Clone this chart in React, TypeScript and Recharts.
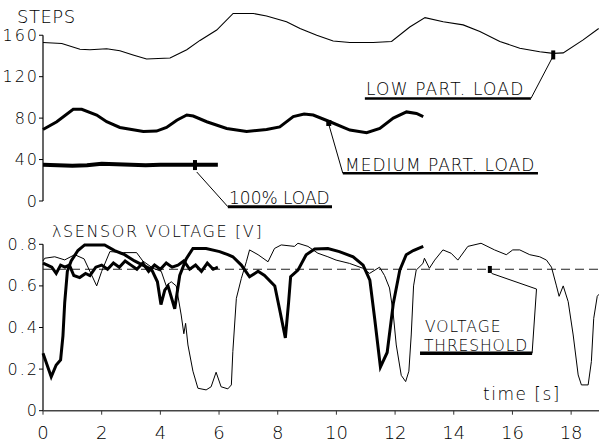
import { LineChart, Line, XAxis, YAxis, ReferenceLine, ReferenceDot } from "recharts";

const FONT = "'DejaVu Sans', Verdana, sans-serif";
const INK = "#000";
const WEIGHT = 200;

const timeTicks = [0, 2, 4, 6, 8, 10, 12, 14, 16, 18];
const stepTicks = [0, 40, 80, 120, 160];
const voltTicks = [0, 0.2, 0.4, 0.6, 0.8];
const threshold = 0.68;

// upper panel: steps
const lowT = [0, 0.64, 1.26, 1.6, 2.17, 2.62, 3.07, 3.53, 4.33, 4.9, 5.35, 5.92, 6.48, 7.17, 7.62, 8.3, 8.76, 9.33, 9.89, 10.46, 11.25, 11.88, 12.5, 13.02, 13.64, 14.32, 14.89, 15.57, 16.25, 16.93, 17.39, 17.73, 18.41, 18.94];
const lowSteps = [153, 152, 146.5, 146, 147, 145, 141, 137, 138, 146, 155, 165, 181, 181, 178.5, 173, 166.5, 160, 154.5, 153, 153, 154, 168, 177, 173, 170, 163.5, 154, 147.5, 144, 142.5, 143, 155.5, 166.5];

const medT = [0, 0.47, 1.03, 1.32, 1.83, 2.17, 2.62, 3.42, 3.87, 4.21, 4.56, 4.9, 5.12, 5.58, 6.26, 6.94, 7.62, 8.07, 8.53, 8.9, 9.21, 9.78, 10.46, 11.03, 11.48, 11.94, 12.39, 12.73, 12.96];
const medSteps = [69, 76.5, 88.5, 88.5, 83, 76.5, 71, 67, 67.5, 71, 78, 83, 82, 76.5, 70, 67, 69, 71.5, 81.5, 84, 83, 76.5, 68.5, 66, 70, 80, 86, 84.5, 81.5];

const fullT = [0, 0.5, 1, 1.5, 2, 2.5, 3, 3.5, 4, 4.5, 5, 5.5, 5.96];
const fullSteps = [35, 34.5, 34, 34.5, 36, 35.5, 35, 34.5, 35, 35, 35, 35, 35];

// lower panel: lambda sensor voltage
const lowVoltT = [0, 0.06, 0.4, 0.74, 1.08, 1.4, 1.83, 2.0, 2.28, 2.74, 3.19, 3.4, 3.75, 4.03, 4.2, 4.37, 4.54, 4.71, 4.8, 4.86, 4.94, 5.11, 5.28, 5.56, 5.73, 5.9, 6.07, 6.3, 6.42, 6.47, 6.59, 6.76, 6.93, 7.04, 7.33, 7.67, 7.89, 8.12, 8.57, 8.69, 9.03, 9.37, 9.71, 9.99, 10.45, 10.9, 11.13, 11.47, 11.64, 11.81, 11.93, 12.04, 12.21, 12.36, 12.47, 12.55, 12.63, 12.72, 12.95, 13.0, 13.17, 13.35, 13.63, 13.91, 14.14, 14.48, 14.93, 15.39, 15.79, 16.01, 16.25, 16.59, 16.93, 17.16, 17.33, 17.5, 17.59, 17.73, 17.9, 18.07, 18.24, 18.35, 18.58, 18.69, 18.77, 18.89, 18.95];
const lowVolt = [0.72, 0.733, 0.74, 0.725, 0.75, 0.73, 0.6, 0.67, 0.765, 0.76, 0.76, 0.72, 0.685, 0.67, 0.6, 0.62, 0.6, 0.46, 0.37, 0.42, 0.316, 0.19, 0.108, 0.1, 0.115, 0.185, 0.115, 0.105, 0.124, 0.284, 0.54, 0.636, 0.716, 0.773, 0.75, 0.716, 0.78, 0.797, 0.79, 0.805, 0.79, 0.757, 0.74, 0.724, 0.708, 0.685, 0.66, 0.69, 0.65, 0.59, 0.476, 0.316, 0.17, 0.14, 0.19, 0.364, 0.6, 0.676, 0.708, 0.733, 0.685, 0.724, 0.773, 0.757, 0.724, 0.79, 0.805, 0.773, 0.75, 0.773, 0.773, 0.75, 0.74, 0.724, 0.69, 0.6, 0.55, 0.6, 0.524, 0.364, 0.172, 0.124, 0.124, 0.236, 0.444, 0.55, 0.56];

const medVoltT = [0, 0.28, 0.45, 0.6, 0.68, 0.74, 0.83, 0.96, 1.19, 1.42, 2.1, 2.44, 2.78, 3.12, 3.4, 3.7, 3.9, 4.02, 4.15, 4.26, 4.49, 4.66, 4.88, 5.11, 5.56, 6.02, 6.3, 6.47, 6.76, 7.04, 7.33, 7.55, 7.9, 8.06, 8.26, 8.37, 8.44, 8.69, 8.97, 9.26, 9.71, 10.1, 10.57, 10.91, 11.14, 11.31, 11.5, 11.73, 11.94, 12.16, 12.38, 12.62, 12.96];
const medVolt = [0.276, 0.163, 0.22, 0.244, 0.36, 0.52, 0.67, 0.72, 0.77, 0.797, 0.797, 0.77, 0.75, 0.72, 0.7, 0.68, 0.62, 0.51, 0.58, 0.6, 0.49, 0.65, 0.73, 0.78, 0.78, 0.765, 0.75, 0.74, 0.7, 0.644, 0.67, 0.65, 0.6, 0.49, 0.35, 0.52, 0.644, 0.676, 0.75, 0.777, 0.78, 0.765, 0.74, 0.7, 0.628, 0.436, 0.21, 0.28, 0.516, 0.676, 0.75, 0.77, 0.79];

const fullVoltT = [0, 0.15, 0.3, 0.45, 0.6, 0.75, 0.9, 1.05, 1.25, 1.45, 1.6, 1.8, 2.0, 2.2, 2.4, 2.6, 2.8, 3.0, 3.2, 3.4, 3.6, 3.8, 4.0, 4.2, 4.4, 4.6, 4.8, 5.0, 5.2, 5.4, 5.6, 5.8, 5.96];
const fullVolt = [0.71, 0.7, 0.69, 0.66, 0.7, 0.69, 0.7, 0.65, 0.64, 0.66, 0.65, 0.69, 0.7, 0.68, 0.71, 0.69, 0.72, 0.7, 0.68, 0.71, 0.67, 0.7, 0.68, 0.71, 0.69, 0.7, 0.72, 0.68, 0.7, 0.67, 0.71, 0.68, 0.69];

const zip = (ts: number[], vs: number[]) => ts.map((t, i) => ({ t, v: vs[i] }));

const fmtVolt = (v: number) => (v === 0 ? "0" : v.toFixed(1));

const YTick = ({ x, y, payload, fmt }: any) => (
  <text x={x} y={y} dy={5.5} textAnchor="end" fontSize={16} letterSpacing={2} fontFamily={FONT} fontWeight={WEIGHT} fill={INK}>
    {fmt ? fmt(payload.value) : payload.value}
  </text>
);

const marker = (w: number, h: number) => (props: any) =>
  <rect x={props.cx - w / 2} y={props.cy - h / 2} width={w} height={h} fill={INK} />;

const textStyle = { fontFamily: FONT, fontWeight: WEIGHT, fill: INK };

export default function App() {
  return (
    <div style={{ position: "absolute", left: 0, top: 0, width: 599, height: 443, background: "#fff" }}>
      <div style={{ position: "absolute", left: 0, top: 0 }}>
        <LineChart width={599} height={215} margin={{ top: 9.34, right: 0, bottom: 3.64, left: 0 }}>
          <XAxis dataKey="t" type="number" domain={[0, 18.95]} ticks={timeTicks} hide />
          <YAxis
            type="number"
            domain={[-10, 185]}
            ticks={stepTicks}
            width={43}
            axisLine={false}
            tickLine={{ stroke: INK }}
            tickSize={4}
            tickMargin={0}
            tick={<YTick />}
          />
          <ReferenceLine segment={[{ x: 0, y: 0 }, { x: 0, y: 160 }]} stroke={INK} strokeWidth={1.2} ifOverflow="visible" />
          <Line data={zip(lowT, lowSteps)} dataKey="v" stroke={INK} strokeWidth={1.1} dot={false} isAnimationActive={false} />
          <Line data={zip(medT, medSteps)} dataKey="v" stroke={INK} strokeWidth={3} dot={false} isAnimationActive={false} />
          <Line data={zip(fullT, fullSteps)} dataKey="v" stroke={INK} strokeWidth={4} dot={false} isAnimationActive={false} />

          {/* LOW PART. LOAD */}
          <ReferenceLine segment={[{ x: 17.37, y: 139 }, { x: 16.63, y: 99 }]} stroke={INK} strokeWidth={1} ifOverflow="visible" />
          <ReferenceLine segment={[{ x: 10.97, y: 99 }, { x: 16.63, y: 99 }]} stroke={INK} strokeWidth={2.5} ifOverflow="visible" />
          <ReferenceDot x={17.39} y={141} r={3} shape={marker(4, 9)} ifOverflow="visible" />

          {/* MEDIUM PART. LOAD */}
          <ReferenceLine segment={[{ x: 9.74, y: 74 }, { x: 10.22, y: 26.7 }]} stroke={INK} strokeWidth={1} ifOverflow="visible" />
          <ReferenceLine segment={[{ x: 10.22, y: 26.7 }, { x: 16.87, y: 26.7 }]} stroke={INK} strokeWidth={2.5} ifOverflow="visible" />
          <ReferenceDot x={9.74} y={75.3} r={3} shape={marker(5, 6)} ifOverflow="visible" />

          {/* 100% LOAD */}
          <ReferenceLine segment={[{ x: 5.24, y: 28 }, { x: 6.3, y: -5.5 }]} stroke={INK} strokeWidth={1} ifOverflow="visible" />
          <ReferenceLine segment={[{ x: 6.3, y: -5.5 }, { x: 9.85, y: -5.5 }]} stroke={INK} strokeWidth={3} ifOverflow="visible" />
          <ReferenceDot x={5.18} y={34.7} r={3} shape={marker(4, 10)} ifOverflow="visible" />
        </LineChart>
      </div>

      <div style={{ position: "absolute", left: 0, top: 215 }}>
        <LineChart width={599} height={228} margin={{ top: 18.9, right: 0, bottom: 0, left: 0 }}>
          <XAxis
            dataKey="t"
            type="number"
            domain={[0, 18.95]}
            ticks={timeTicks}
            height={32.3}
            axisLine={{ stroke: "#444", strokeWidth: 1.5 }}
            tickLine={{ stroke: "#333" }}
            tickSize={4}
            tickMargin={12}
            tick={{ fill: INK, fontSize: 18, fontFamily: FONT, fontWeight: WEIGHT }}
          />
          <YAxis
            type="number"
            domain={[0, 0.85]}
            ticks={voltTicks}
            width={43}
            axisLine={false}
            tickLine={{ stroke: INK }}
            tickSize={4}
            tickMargin={0}
            tick={<YTick fmt={fmtVolt} />}
          />
          <ReferenceLine segment={[{ x: 0, y: 0 }, { x: 0, y: 0.8 }]} stroke={INK} strokeWidth={1.2} ifOverflow="visible" />
          <ReferenceLine y={threshold} stroke="#222" strokeWidth={1} strokeDasharray="9 5" />
          <Line data={zip(lowVoltT, lowVolt)} dataKey="v" stroke={INK} strokeWidth={1} dot={false} isAnimationActive={false} />
          <Line data={zip(fullVoltT, fullVolt)} dataKey="v" stroke={INK} strokeWidth={3} dot={false} isAnimationActive={false} />
          <Line data={zip(medVoltT, medVolt)} dataKey="v" stroke={INK} strokeWidth={3} dot={false} isAnimationActive={false} />

          {/* VOLTAGE THRESHOLD */}
          <ReferenceLine segment={[{ x: 15.29, y: 0.66 }, { x: 16.82, y: 0.585 }]} stroke={INK} strokeWidth={1} ifOverflow="visible" />
          <ReferenceLine segment={[{ x: 16.82, y: 0.585 }, { x: 16.67, y: 0.276 }]} stroke={INK} strokeWidth={1} ifOverflow="visible" />
          <ReferenceLine segment={[{ x: 12.85, y: 0.276 }, { x: 16.67, y: 0.276 }]} stroke={INK} strokeWidth={3.5} ifOverflow="visible" />
          <ReferenceDot x={15.23} y={0.679} r={3} shape={marker(4, 7)} ifOverflow="visible" />
        </LineChart>
      </div>

      <svg width={599} height={443} style={{ position: "absolute", left: 0, top: 0, pointerEvents: "none" }}>
        <text x={17} y={23} fontSize={18} letterSpacing={0.5} {...textStyle}>STEPS</text>
        <text x={366} y={95} fontSize={17} letterSpacing={1.2} {...textStyle}>LOW PART. LOAD</text>
        <text x={345} y={171} fontSize={17} letterSpacing={1} {...textStyle}>MEDIUM PART. LOAD</text>
        <text x={229} y={204} fontSize={17} {...textStyle}>100% LOAD</text>
        <text x={52} y={237} fontSize={16} letterSpacing={1.6} {...textStyle}>λSENSOR VOLTAGE [V]</text>
        <text x={425} y={332} fontSize={15.5} letterSpacing={1} {...textStyle}>VOLTAGE</text>
        <text x={424} y={351} fontSize={15.5} letterSpacing={0.9} {...textStyle}>THRESHOLD</text>
        <text x={483} y={400} fontSize={17} letterSpacing={1.5} {...textStyle}>time [s]</text>
      </svg>
    </div>
  );
}
